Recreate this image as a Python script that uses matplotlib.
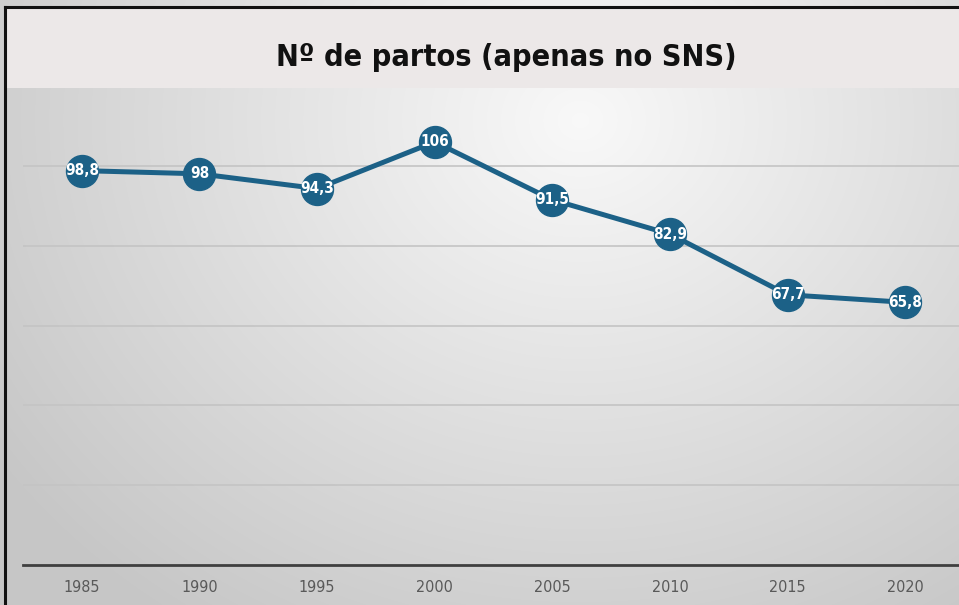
import numpy as np
import matplotlib.pyplot as plt
from matplotlib.patches import Rectangle
from matplotlib.lines import Line2D

years = ['1985', '1990', '1995', '2000', '2005', '2010', '2015', '2020']
partos = [98.8, 98, 94.3, 106, 91.5, 82.9, 67.7, 65.8]
labels = ['98,8', '98', '94,3', '106', '91,5', '82,9', '67,7', '65,8']

W, H = 959, 605

fig = plt.figure(figsize=(W / 100, H / 100), dpi=100)
fig.patch.set_facecolor('white')

# radial grey background
bg = fig.add_axes([0, 0, 1, 1], zorder=0)
yy, xx = np.mgrid[0:H, 0:W]
r = np.sqrt(((xx - 580) / 720.0) ** 2 + ((yy - 120) / 620.0) ** 2)
val = np.clip(0.975 - 0.2 * r, 0.78, 1)
bg.imshow(np.dstack([val, val, val]), extent=[0, W, H, 0], aspect='auto')
bg.set_xlim(0, W)
bg.set_ylim(H, 0)
bg.axis('off')
# title band
bg.add_patch(Rectangle((6, 8), W, 80, facecolor='#ece8e8', edgecolor='none'))
# border
bg.add_line(Line2D([5, 5], [7, H], color='#111111', lw=2.2))
bg.add_line(Line2D([5, W], [7, 7], color='#111111', lw=2.2))
bg.text(506, 57, 'Nº de partos (apenas no SNS)', ha='center', va='center',
        fontsize=22, fontweight='bold', fontstretch='condensed', color='#111111')

left, right = 23, 964
top, bottom = 86, 565
ax = fig.add_axes([left / W, 1 - bottom / H, (right - left) / W, (bottom - top) / H],
                  zorder=1)
ax.patch.set_alpha(0)
x = np.arange(len(years))
ax.plot(x, partos, color='#1c6187', lw=3.6, marker='o', ms=23,
        markerfacecolor='#1c6187', markeredgecolor='#1c6187', zorder=3,
        clip_on=False)
for xi, v, t in zip(x, partos, labels):
    ax.text(xi, v, t, ha='center', va='center', color='white', fontsize=11,
            fontweight='bold', fontstretch='condensed', zorder=4)

ax.set_xlim(-0.5, len(years) - 0.5)
ax.set_ylim(0, 120)
ax.set_yticks([20, 40, 60, 80, 100])
ax.yaxis.grid(True, color='#c4c4c4', lw=1.2)
ax.set_axisbelow(True)
ax.tick_params(axis='y', left=False, labelleft=False)
ax.set_xticks(x)
ax.set_xticklabels(years, fontsize=11.5, color='#595959', fontstretch='condensed')
ax.tick_params(axis='x', length=0, pad=11)
for s in ['top', 'right', 'left']:
    ax.spines[s].set_visible(False)
ax.spines['bottom'].set_color('#3f3f3f')
ax.spines['bottom'].set_linewidth(2)

fig.savefig('out.png', dpi=100)
